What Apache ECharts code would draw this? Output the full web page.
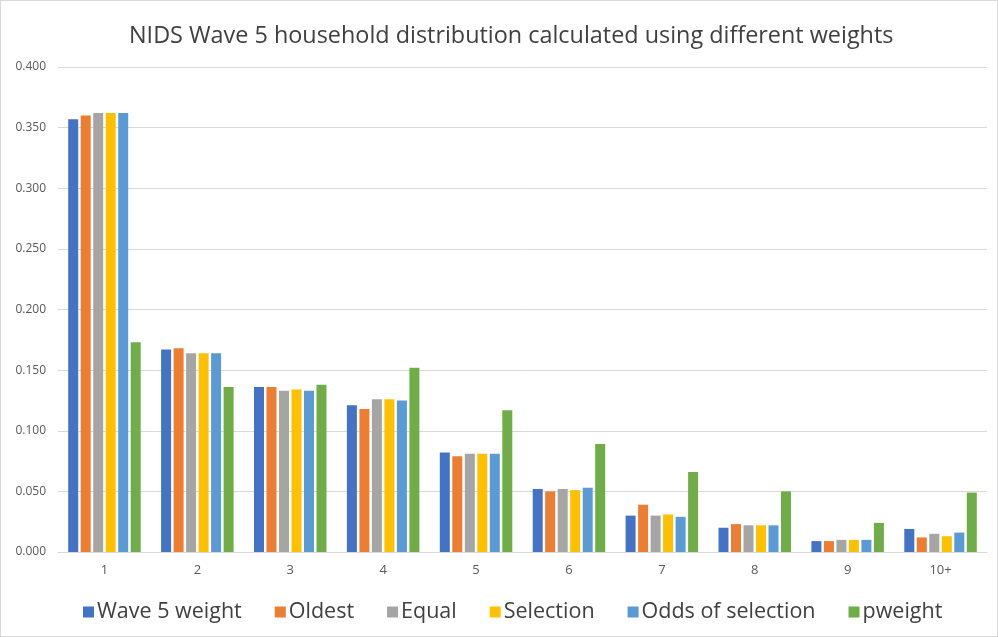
<!DOCTYPE html>
<html>
<head>
<meta charset="utf-8">
<script src="https://cdn.jsdelivr.net/npm/echarts@6/dist/echarts.min.js"></script>
<style>
  html, body { margin: 0; padding: 0; background: #fff; }
  #main { width: 996px; height: 635px; border: 1px solid #d9d9d9; }
</style>
</head>
<body>
<div id="main"></div>
<script>
// household size categories
var categories = ['1', '2', '3', '4', '5', '6', '7', '8', '9', '10+'];

var wave5Weight = [0.357, 0.167, 0.136, 0.121, 0.082, 0.052, 0.030, 0.020, 0.009, 0.019];
var oldest      = [0.360, 0.168, 0.136, 0.118, 0.079, 0.050, 0.039, 0.023, 0.009, 0.012];
var equal       = [0.362, 0.164, 0.133, 0.126, 0.081, 0.052, 0.030, 0.022, 0.010, 0.015];
var selection   = [0.362, 0.164, 0.134, 0.126, 0.081, 0.051, 0.031, 0.022, 0.010, 0.013];
var oddsOfSel   = [0.362, 0.164, 0.133, 0.125, 0.081, 0.053, 0.029, 0.022, 0.010, 0.016];
var pweight     = [0.173, 0.136, 0.138, 0.152, 0.117, 0.089, 0.066, 0.050, 0.024, 0.049];

var seriesNames = ['Wave 5 weight', 'Oldest', 'Equal', 'Selection', 'Odds of selection', 'pweight'];
var seriesData = [wave5Weight, oldest, equal, selection, oddsOfSel, pweight];
var colors = ['#4472C4', '#ED7D31', '#A5A5A5', '#FFC000', '#5B9BD5', '#70AD47'];

var series = [];
for (var i = 0; i < seriesNames.length; i++) {
    series.push({
        name: seriesNames[i],
        type: 'bar',
        barWidth: 10,
        barGap: '25%',
        itemStyle: { color: colors[i] },
        data: seriesData[i]
    });
}

var myChart = echarts.init(document.getElementById('main'));
myChart.setOption({
    animation: false,
    color: colors,
    textStyle: { fontFamily: 'Open Sans' },
    title: {
        text: 'NIDS Wave 5 household distribution calculated using different weights',
        left: 123,
        top: 19,
        textStyle: { fontSize: 23.4, fontWeight: 'normal', color: '#404040', fontFamily: 'Open Sans' }
    },
    legend: {
        bottom: 8,
        left: 77,
        itemWidth: 11,
        itemHeight: 11,
        itemGap: 33,
        icon: 'rect',
        textStyle: { fontSize: 21.5, color: '#404040', padding: [0, 0, 0, -2] },
        data: seriesNames
    },
    grid: {
        left: 57,
        right: 10,
        top: 66,
        bottom: 84
    },
    xAxis: {
        type: 'category',
        data: categories,
        axisTick: { show: false },
        axisLine: { lineStyle: { color: '#d9d9d9' } },
        axisLabel: { color: '#595959', fontSize: 13, margin: 12 }
    },
    yAxis: {
        type: 'value',
        min: 0,
        max: 0.4,
        interval: 0.05,
        axisLabel: {
            color: '#595959',
            fontSize: 12,
            margin: 12,
            formatter: function (v) { return v.toFixed(3); }
        },
        splitLine: { lineStyle: { color: '#d9d9d9' } }
    },
    series: series
});
</script>
</body>
</html>
